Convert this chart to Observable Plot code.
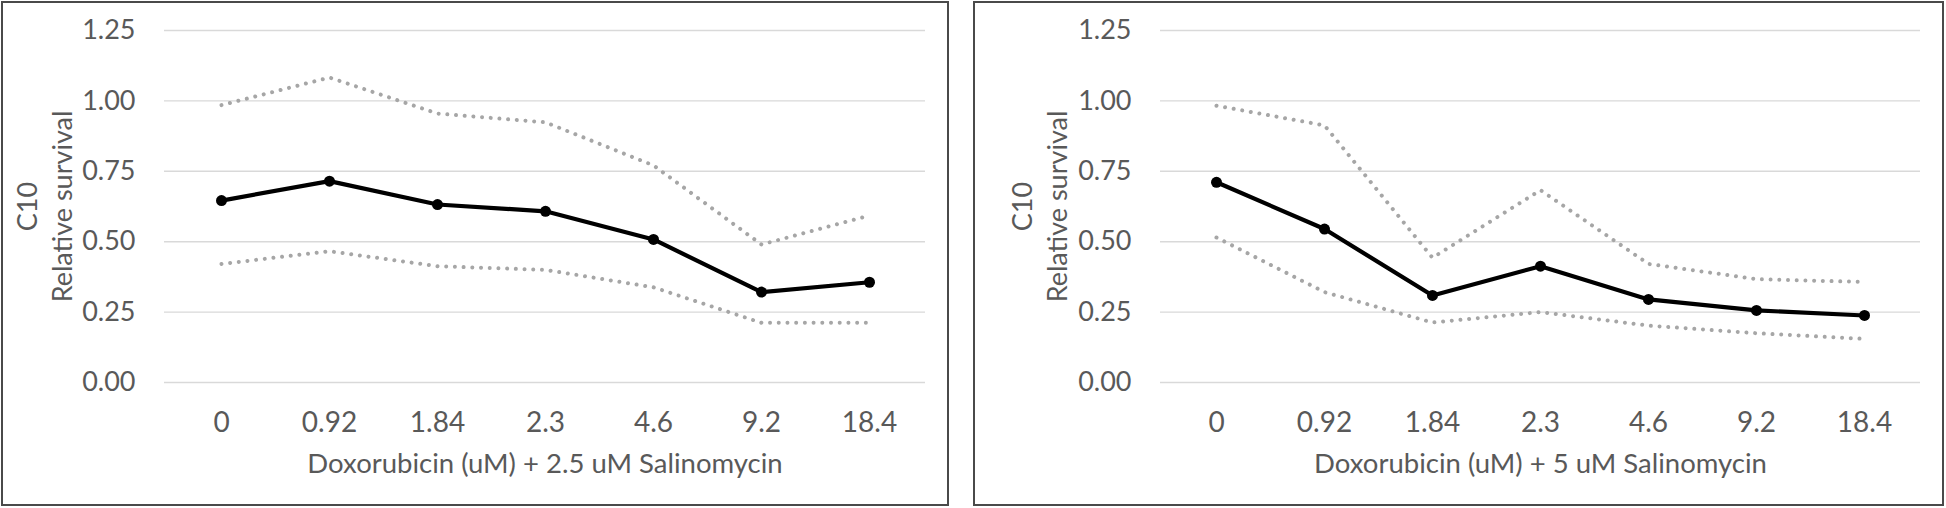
<!DOCTYPE html>
<html>
<head>
<meta charset="utf-8">
<script src="https://cdn.jsdelivr.net/npm/d3@7"></script>
<script src="https://cdn.jsdelivr.net/npm/@observablehq/plot@0.6"></script>
<style>
  html, body { margin: 0; padding: 0; background: #fff; }
  #wrap { position: relative; width: 1946px; height: 508px; }
  .panel { position: absolute; box-sizing: border-box; border: 2px solid #4a4a4a; background: #fff; }
  .panel svg { display: block; }
</style>
</head>
<body>
<div id="wrap">
  <div class="panel" id="p1" style="left:1px; top:1px; width:948px; height:505px;"></div>
  <div class="panel" id="p2" style="left:973px; top:1px; width:971px; height:505px;"></div>
</div>
<script>
const doses = ["0", "0.92", "1.84", "2.3", "4.6", "9.2", "18.4"];
const yTicks = [0, 0.25, 0.5, 0.75, 1.0, 1.25];

// Panel 1: Doxorubicin + 2.5 uM Salinomycin
const mean25  = [0.646, 0.715, 0.632, 0.608, 0.508, 0.321, 0.356];
const upper25 = [0.985, 1.083, 0.955, 0.924, 0.771, 0.490, 0.593];
const lower25 = [0.421, 0.466, 0.413, 0.400, 0.338, 0.212, 0.212];

// Panel 2: Doxorubicin + 5 uM Salinomycin
const mean5  = [0.711, 0.545, 0.309, 0.413, 0.295, 0.256, 0.238];
const upper5 = [0.983, 0.913, 0.443, 0.683, 0.421, 0.367, 0.357];
const lower5 = [0.515, 0.321, 0.213, 0.250, 0.202, 0.175, 0.155];

const xLabel1 = "Doxorubicin (uM) + 2.5 uM Salinomycin";
const xLabel2 = "Doxorubicin (uM) + 5 uM Salinomycin";
const yLabel = "C10\nRelative survival";

const FONT = "Lato, 'Open Sans', sans-serif";
const TEXT = "#595959";

function makeChart(mean, upper, lower, xLabel, width, marginLeft, titleDx) {
  const rows = (vals) => doses.map((d, i) => ({dose: d, v: vals[i]}));
  return Plot.plot({
    width,
    height: 501,
    marginLeft,
    marginRight: 22,
    marginTop: 27,
    marginBottom: 122,
    style: {fontFamily: FONT, fontSize: "27px", color: TEXT, background: "#fff", overflow: "visible"},
    x: {type: "point", domain: doses, padding: 0.5},
    y: {domain: [0, 1.25]},
    marks: [
      Plot.gridY(yTicks, {stroke: "#d9d9d9", strokeOpacity: 1, strokeWidth: 1.4}),
      Plot.axisY(yTicks, {tickSize: 0, tickPadding: 29, tickFormat: d3.format(".2f"), label: null, fill: TEXT, fontSize: 27}),
      Plot.axisX({tickSize: 0, tickPadding: 30, label: null, fill: TEXT, fontSize: 28}),
      Plot.line(rows(upper), {x: "dose", y: "v", stroke: "#a6a6a6", strokeWidth: 4, strokeDasharray: "0.01 8.7", strokeLinecap: "round", strokeLinejoin: "round"}),
      Plot.line(rows(lower), {x: "dose", y: "v", stroke: "#a6a6a6", strokeWidth: 4, strokeDasharray: "0.01 8.7", strokeLinecap: "round", strokeLinejoin: "round"}),
      Plot.line(rows(mean), {x: "dose", y: "v", stroke: "#000", strokeWidth: 4.2, strokeLinejoin: "round"}),
      Plot.dot(rows(mean), {x: "dose", y: "v", r: 5.5, fill: "#000", stroke: "none"}),
      Plot.text([xLabel], {frameAnchor: "bottom", lineAnchor: "bottom", dy: 90, text: d => d, fill: TEXT, fontSize: 27.5}),
      Plot.text([yLabel], {frameAnchor: "left", rotate: -90, lineAnchor: "middle", lineHeight: 1.3, dx: titleDx, text: d => d, fill: TEXT, fontSize: 27, textAnchor: "middle"})
    ]
  });
}

document.getElementById("p1").appendChild(makeChart(mean25, upper25, lower25, xLabel1, 944, 161, -121.5));
document.getElementById("p2").appendChild(makeChart(mean5, upper5, lower5, xLabel2, 967, 185, -122));
</script>
</body>
</html>
